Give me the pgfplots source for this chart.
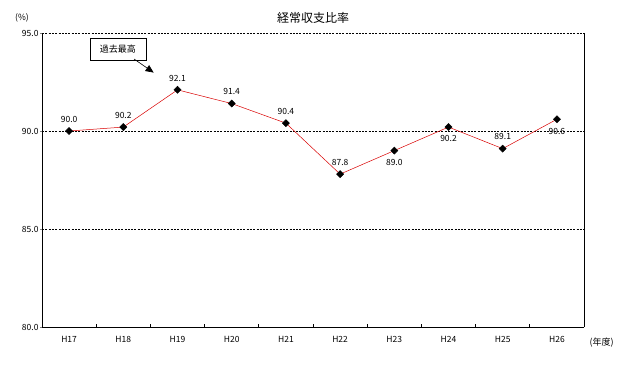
\documentclass[border=0pt]{standalone}
\usepackage{pgfplots}
\pgfplotsset{compat=1.18}
\usepackage{fontspec}
\setmainfont{Noto Sans CJK JP}
\usetikzlibrary{arrows.meta}
\pgfplotstableread{
x y
0 90.0
1 90.2
2 92.1
3 91.4
4 90.4
5 87.8
6 89.0
7 90.2
8 89.1
9 90.6
}\datatable
\begin{document}
\begin{tikzpicture}[x=1pt,y=1pt]
\path (0,0) rectangle (626,368);
\begin{axis}[
  at={(42pt,41pt)}, anchor=south west,
  scale only axis, width=542pt, height=294pt,
  xmin=-0.5, xmax=9.5, ymin=80, ymax=95,
  axis x line*=bottom, axis y line*=left,
  xtick={0,...,9}, xticklabels={H17,H18,H19,H20,H21,H22,H23,H24,H25,H26},
  major x tick style={draw=none},
  minor xtick={0.5,1.5,...,8.5},
  xminorticks=true,
  minor tick length=3.5pt,
  minor x tick style={line width=0.8pt, black},
  x tick label style={font=\fontsize{8.5}{9}\selectfont, yshift=-6pt},
  ytick={80,85,90,95},
  y tick label style={font=\fontsize{8.5}{9}\selectfont},
  yticklabel style={/pgf/number format/.cd, fixed, fixed zerofill, precision=1},
  /pgf/number format/assume math mode=true,
  tick align=inside, major tick length=2pt,
  major y tick style={xshift=-2pt, line width=0.7pt},
  ymajorgrids, grid style={black, dash pattern=on 2pt off 1.3pt, line width=0.6pt},
  axis line style={line width=0.9pt},
  clip=false,
]
\draw[line width=0.9pt] (rel axis cs:1,0) -- (rel axis cs:1,1);
\addplot[red!85!black, line width=0.5pt, mark=square*, mark size=2.5pt,
  mark options={fill=black, draw=black, solid, rotate=45}] table[x=x,y=y] {\datatable};
\begin{scope}[font=\fontsize{8.5}{9}\selectfont]
\node at (axis cs:0,90.6) {90.0};
\node at (axis cs:1,90.8) {90.2};
\node at (axis cs:2,92.7) {92.1};
\node at (axis cs:3,92.0) {91.4};
\node at (axis cs:4,91.0) {90.4};
\node at (axis cs:5,88.4) {87.8};
\node at (axis cs:6,88.4) {89.0};
\node at (axis cs:7,89.6) {90.2};
\node at (axis cs:8,89.7) {89.1};
\node at (axis cs:9,90.0) {90.6};
\end{scope}
\node[draw, fill=white, line width=0.6pt, inner sep=3pt, minimum width=56pt, minimum height=22pt, font=\fontsize{9}{10}\selectfont] (box) at (axis cs:0.9,94.18) {過去最高};
\draw[line width=0.6pt, -{Triangle[length=8pt,width=7pt]}] (axis cs:1.2,93.67) -- (axis cs:1.56,92.98);
\node[font=\fontsize{12}{13}\selectfont] at (rel axis cs:0.5,1) [yshift=15pt] {経常収支比率};
\node[font=\fontsize{8.5}{9}\selectfont] at (axis cs:-0.5,95) [xshift=-20pt, yshift=15pt] {(\%)};
\node[font=\fontsize{9}{10}\selectfont, anchor=west] at (axis cs:9.5,80) [xshift=2pt, yshift=-16pt] {(年度)};
\end{axis}
\end{tikzpicture}
\end{document}
